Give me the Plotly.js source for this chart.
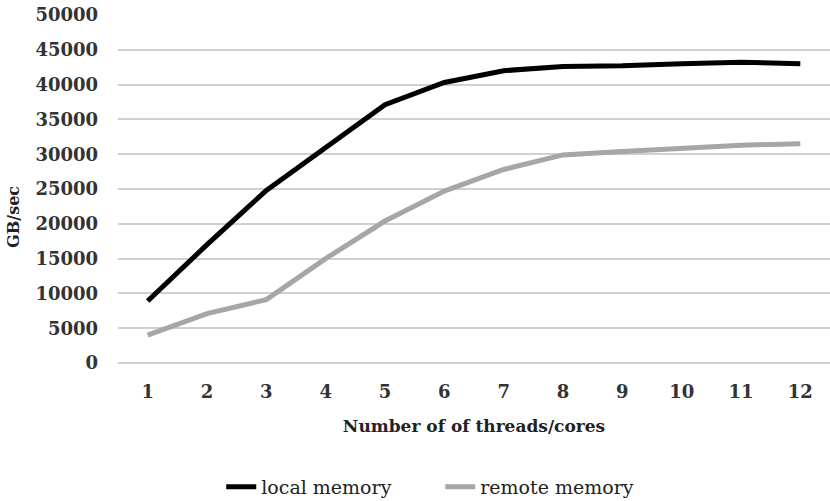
<!DOCTYPE html>
<html>
<head>
<meta charset="utf-8">
<script src="https://cdn.plot.ly/plotly-3.0.1.min.js"></script>
<style>html,body{margin:0;padding:0;background:#fff}#chart{width:830px;height:501px}</style>
</head>
<body>
<div id="chart"></div>
<script>
const threads = ["1","2","3","4","5","6","7","8","9","10","11","12"];
const localMemory = [8900, 17000, 24800, 31000, 37100, 40300, 42000, 42600, 42700, 43000, 43200, 43000];
const remoteMemory = [4000, 7100, 9100, 15000, 20400, 24700, 27800, 29900, 30400, 30800, 31300, 31500];
const yTicks = [0, 5000, 10000, 15000, 20000, 25000, 30000, 35000, 40000, 45000, 50000];
const yTickText = yTicks.map(v => String(v));

const fontFam = "DejaVu Serif, Liberation Serif, serif";
const traces = [
  {x: threads, y: localMemory, type: "scatter", mode: "lines", name: "local memory",
   line: {color: "#000000", width: 5}},
  {x: threads, y: remoteMemory, type: "scatter", mode: "lines", name: "remote memory",
   line: {color: "#a6a6a6", width: 5}}
];
const layout = {
  width: 830, height: 501,
  margin: {l: 118, r: 0, t: 15, b: 138},
  paper_bgcolor: "#ffffff", plot_bgcolor: "#ffffff",
  showlegend: true,
  legend: {orientation: "h", xref: "paper", x: 0.145, xanchor: "left",
           yref: "container", y: 0.028, yanchor: "middle",
           entrywidth: 174, entrywidthmode: "pixels",
           font: {family: fontFam, size: 19, color: "#222"}, tracegroupgap: 0},
  xaxis: {type: "category", range: [-0.5, 11.5], showgrid: false, zeroline: false, showline: false,
          ticks: "", ticklabelstandoff: 16, automargin: false,
          tickfont: {family: fontFam, size: 18, color: "#333", weight: "bold"},
          title: {text: "Number of of threads/cores", standoff: 19,
                  font: {family: fontFam, size: 17, color: "#222", weight: "bold"}}},
  yaxis: {range: [0, 50000], tickvals: yTicks, ticktext: yTickText, showgrid: true, gridcolor: "#d0d0d0", gridwidth: 2,
          zeroline: true, zerolinecolor: "#d0d0d0", zerolinewidth: 2, showline: false, ticks: "", ticklabelstandoff: 19,
          automargin: false,
          tickfont: {family: fontFam, size: 18, color: "#333", weight: "bold"}},
  annotations: [{text: "GB/sec", xref: "paper", yref: "paper", x: -0.146, y: 0.42,
                 xanchor: "center", yanchor: "middle", textangle: -90, showarrow: false,
                 font: {family: fontFam, size: 16, color: "#222", weight: "bold"}}]
};
Plotly.newPlot("chart", traces, layout, {displayModeBar: false, staticPlot: true});
</script>
</body>
</html>
